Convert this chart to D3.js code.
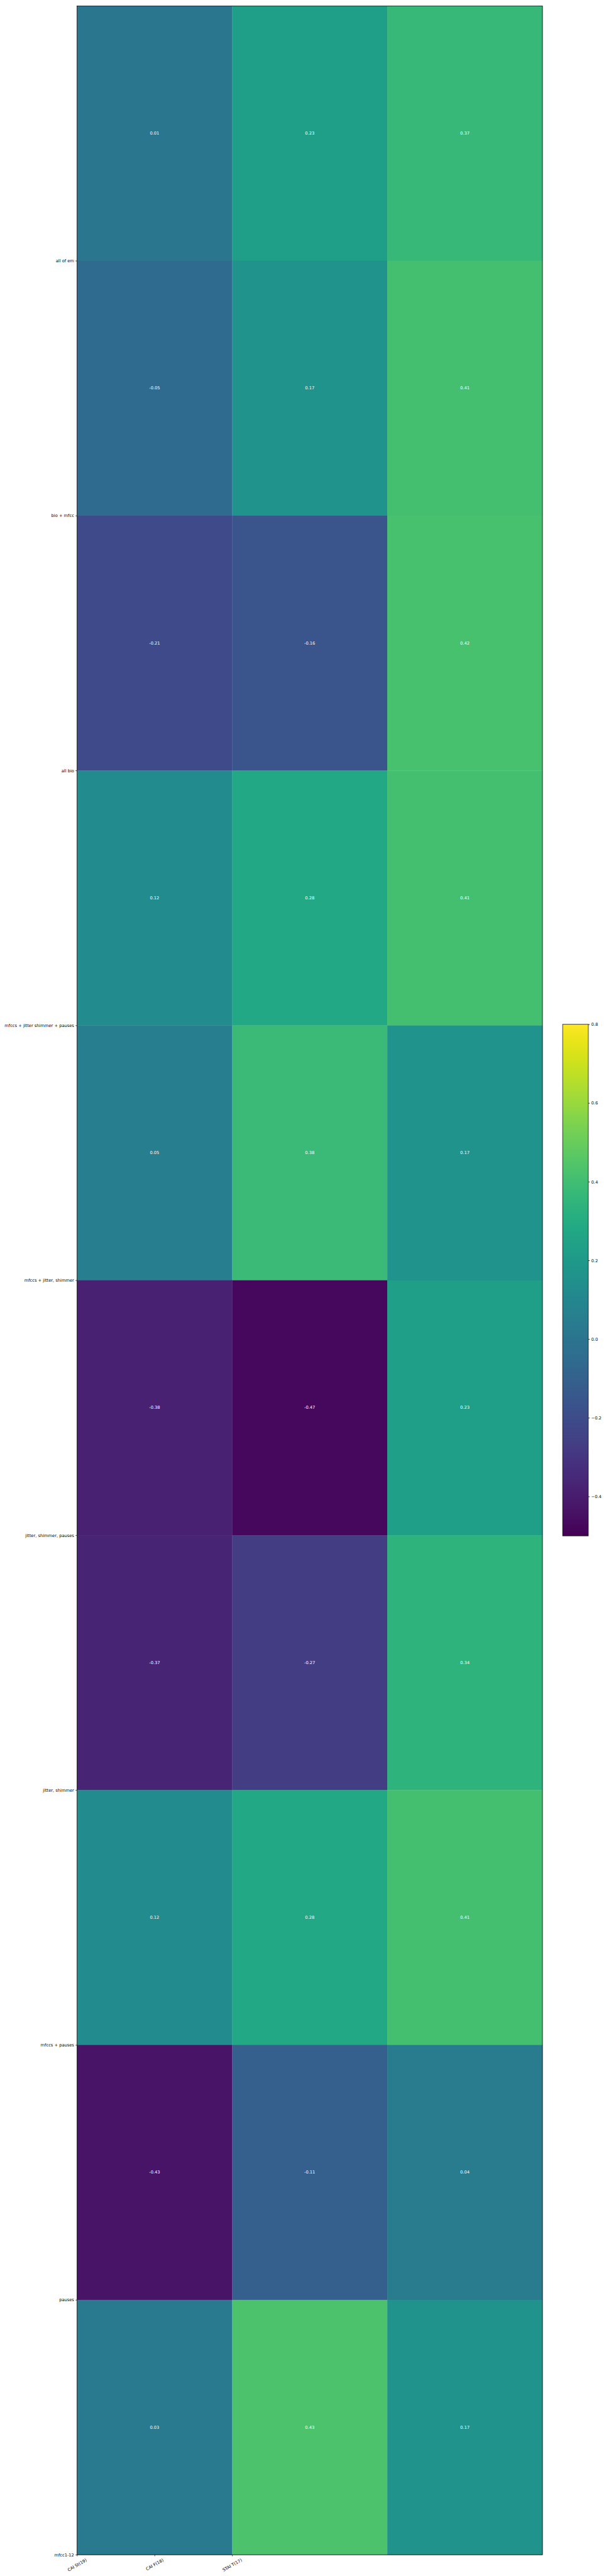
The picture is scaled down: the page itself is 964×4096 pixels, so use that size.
<!DOCTYPE html>
<html>
<head>
<meta charset="utf-8">
<script src="https://cdn.jsdelivr.net/npm/d3@7"></script>
<style>
  html, body { margin: 0; padding: 0; background: #ffffff; }
  svg { display: block; }
  text { font-family: "DejaVu Sans", sans-serif; }
</style>
</head>
<body>
<svg id="chart" width="964" height="4096"></svg>
<script>
// ---------------- data ----------------
const rowLabels = [
  "all of em",
  "bio + mfcc",
  "all bio",
  "mfccs + jitter shimmer + pauses",
  "mfccs + jitter, shimmer",
  "jitter, shimmer, pauses",
  "jitter, shimmer",
  "mfccs + pauses",
  "pauses",
  "mfcc1-12"
];
const colLabels = ["CAI St(19)", "CAI F(18)", "STAI T(17)"];
const colCAISt = [0.01, -0.05, -0.21, 0.12, 0.05, -0.38, -0.37, 0.12, -0.43, 0.03];
const colCAIF  = [0.23, 0.17, -0.16, 0.28, 0.38, -0.47, -0.27, 0.28, -0.11, 0.43];
const colSTAIT = [0.37, 0.41, 0.42, 0.41, 0.17, 0.23, 0.34, 0.41, 0.04, 0.17];
const colorDomain = [-0.5, 0.8];
const colorbarTicks = [0.8, 0.6, 0.4, 0.2, 0.0, -0.2, -0.4];

// ---------------- layout (reference pixels) ----------------
const S = 964 / 1440;
const plot = { left: 183, right: 1289, top: 14, bottom: 6068 };
const cbar = { left: 1337, right: 1398, top: 2433, bottom: 3648 };
const FONT = 10, TICK = 3.5, PAD = 3.5;

const svg = d3.select("#chart");
const root = svg.append("g").attr("transform", `scale(${S})`);

const columns = [colCAISt, colCAIF, colSTAIT];
const cells = [];
rowLabels.forEach((r, i) => columns.forEach((col, j) => cells.push({ row: i, col: j, v: col[i] })));

// column units for cells, half-column units for tick positions
const xCol = d3.scaleLinear().domain([0, colLabels.length]).range([plot.left, plot.right]);
const xTick = d3.scaleLinear().domain([0, colLabels.length * 2]).range([plot.left, plot.right]);
const yRow = d3.scaleLinear().domain([0, rowLabels.length]).range([plot.top, plot.bottom]);
const color = d3.scaleSequential(d3.interpolateViridis).domain(colorDomain);

// cells
root.append("g").selectAll("rect").data(cells).join("rect")
  .attr("x", d => xCol(d.col))
  .attr("y", d => yRow(d.row))
  .attr("width", d => xCol(d.col + 1) - xCol(d.col) + 0.5)
  .attr("height", d => yRow(d.row + 1) - yRow(d.row) + 0.5)
  .attr("fill", d => color(d.v));

// cell annotations
root.append("g").selectAll("text").data(cells).join("text")
  .attr("x", d => xCol(d.col + 0.5))
  .attr("y", d => yRow(d.row + 0.5))
  .attr("text-anchor", "middle")
  .attr("dominant-baseline", "central")
  .attr("font-size", FONT)
  .attr("fill", "#ffffff")
  .text(d => d.v.toFixed(2));

// frame
root.append("rect")
  .attr("x", plot.left).attr("y", plot.top)
  .attr("width", plot.right - plot.left).attr("height", plot.bottom - plot.top)
  .attr("fill", "none").attr("stroke", "#000").attr("stroke-width", 1.1);

// y axis: labels at row bottoms
const yAxis = d3.axisLeft(yRow)
  .tickValues(rowLabels.map((_, i) => i + 1))
  .tickFormat(v => rowLabels[v - 1])
  .tickSize(TICK).tickPadding(PAD);
const gy = root.append("g").attr("transform", `translate(${plot.left},0)`).call(yAxis);
gy.select(".domain").remove();
gy.selectAll("line").attr("stroke", "#000").attr("stroke-width", 1.1);
gy.selectAll("text").attr("font-size", FONT).attr("fill", "#000").attr("font-family", "DejaVu Sans");

// x axis: labels at half-column positions, rotated
const xAxis = d3.axisBottom(xTick)
  .tickValues(colLabels.map((_, i) => i))
  .tickFormat(v => colLabels[v])
  .tickSize(TICK).tickPadding(PAD);
const gx = root.append("g").attr("transform", `translate(0,${plot.bottom})`).call(xAxis);
gx.select(".domain").remove();
gx.selectAll("line").attr("stroke", "#000").attr("stroke-width", 1.1);
const ang = 30 * Math.PI / 180;
gx.selectAll("text")
  .attr("font-size", FONT).attr("fill", "#000").attr("font-family", "DejaVu Sans")
  .attr("dy", null)
  .each(function () {
    const t = d3.select(this);
    const w = this.getComputedTextLength();
    const h = FONT * 1.16;
    const bh = w * Math.sin(ang) + h * Math.cos(ang);
    const cy = TICK + PAD + bh / 2;
    t.attr("y", null).attr("x", null)
     .attr("text-anchor", "middle")
     .attr("dominant-baseline", "central")
     .attr("transform", `translate(0,${cy}) rotate(-30)`);
  });

// ---------------- colorbar ----------------
const yC = d3.scaleLinear().domain(colorDomain).range([cbar.bottom, cbar.top]);
const defs = svg.append("defs");
const grad = defs.append("linearGradient").attr("id", "cbgrad")
  .attr("x1", 0).attr("y1", 1).attr("x2", 0).attr("y2", 0);
d3.range(0, 1.0001, 0.02).forEach(t => {
  grad.append("stop").attr("offset", t)
    .attr("stop-color", color(colorDomain[0] + t * (colorDomain[1] - colorDomain[0])));
});
root.append("rect")
  .attr("x", cbar.left).attr("y", yC(colorDomain[1]))
  .attr("width", cbar.right - cbar.left)
  .attr("height", yC(colorDomain[0]) - yC(colorDomain[1]))
  .attr("fill", "url(#cbgrad)")
  .attr("stroke", "#000").attr("stroke-width", 1.1);

const cAxis = d3.axisRight(yC)
  .tickValues(colorbarTicks)
  .tickFormat(v => d3.format(".1f")(v).replace("-", "\u2212"))
  .tickSize(TICK).tickPadding(PAD);
const gc = root.append("g").attr("transform", `translate(${cbar.right},0)`).call(cAxis);
gc.select(".domain").remove();
gc.selectAll("line").attr("stroke", "#000").attr("stroke-width", 1.1);
gc.selectAll("text").attr("font-size", FONT).attr("fill", "#000").attr("font-family", "DejaVu Sans");
</script>
</body>
</html>
